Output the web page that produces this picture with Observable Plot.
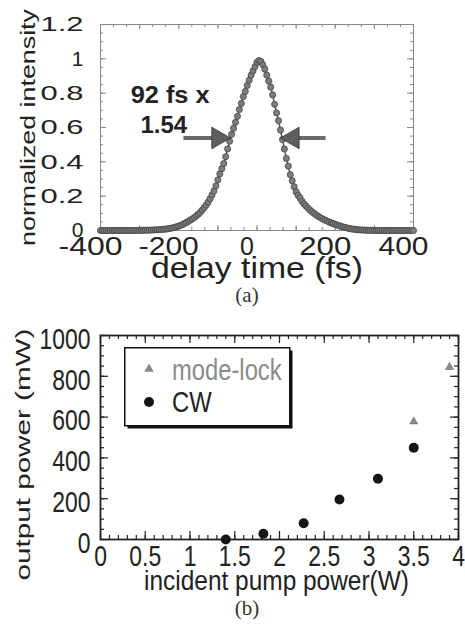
<!DOCTYPE html>
<html><head><meta charset="utf-8">
<script src="https://cdn.jsdelivr.net/npm/d3@7"></script>
<script src="https://cdn.jsdelivr.net/npm/@observablehq/plot@0.6"></script>
<style>
body{margin:0;background:#fff;}
#wrap{position:relative;width:465px;height:625px;overflow:hidden;background:#fff;}
#wrap > *{position:absolute;}
.cap{font-family:"Liberation Serif","DejaVu Serif",serif;font-size:21px;color:#333;width:60px;text-align:center;line-height:21px;}
</style></head><body><div id="wrap"></div>
<script>
// ---------- panel (a): autocorrelation trace ----------
const delayFs = [-400,-395,-390,-385,-380,-375,-370,-365,-360,-355,-350,-345,-340,-335,-330,-325,-320,-315,-310,-305,
-300,-295,-290,-285,-280,-275,-270,-265,-260,-255,
-250,-245,-240,-235,-230,-225,-220,-215,-210,-205,
-200,-195,-190,-185,-180,-175,-170,-165,-160,-155,
-150,-145,-140,-135,-130,-125,-120,-115,-110,-105,
-100,-95,-90,-85,-80,-75,-70,-65,-60,-55,
-50,-45,-40,-35,-30,-25,-20,-15,-10,-5,
0,5,10,15,20,25,30,35,40,45,
50,55,60,65,70,75,80,85,90,95,
100,105,110,115,120,125,130,135,140,145,
150,155,160,165,170,175,180,185,190,195,
200,205,210,215,220,225,230,235,240,245,
250,255,260,265,270,275,280,285,290,295,
300,305,310,315,320,325,330,335,340,345,350,355,360,365,370,375,380,385,390,395,400];
const intensity = [0,0,0,0,0,0,0,0,0,0,0,0,0,0,0,0,0,0,0,0,
0.001,0.001,0.001,0.002,0.002,0.002,0.003,0.003,0.004,0.004,
0.005,0.006,0.007,0.008,0.009,0.011,0.013,0.016,0.019,0.022,
0.026,0.030,0.035,0.041,0.047,0.054,0.061,0.068,0.076,0.085,
0.095,0.106,0.119,0.133,0.148,0.165,0.185,0.207,0.231,0.26,
0.295,0.33,0.36,0.39,0.43,0.475,0.52,0.56,0.595,0.63,
0.665,0.705,0.74,0.78,0.81,0.845,0.875,0.905,0.93,0.955,
0.98,0.99,0.985,0.965,0.94,0.905,0.87,0.835,0.79,0.735,
0.685,0.64,0.585,0.53,0.475,0.42,0.375,0.325,0.29,0.255,
0.225,0.205,0.19,0.17,0.155,0.143,0.131,0.12,0.11,0.101,
0.093,0.085,0.078,0.071,0.065,0.059,0.054,0.049,0.044,0.04,
0.036,0.032,0.028,0.024,0.021,0.018,0.015,0.012,0.01,0.008,
0.007,0.005,0.004,0.003,0.003,0.002,0.002,0.001,0.001,0.001,
0,0,0,0,0,0,0,0,0,0,0,0,0,0,0,0,0,0,0,0,0];
const xTicksA = [-400,-200,0,200,400];
const xTickLabelsA = ["-400","-200","0","200","400"];
const yTicksA = [0,0.2,0.4,0.6,0.8,1,1.2];
const yTickLabelsA = ["0","0.2","0.4","0.6","0.8","1","1.2"];
const xLabelA = "delay time (fs)";
const yLabelA = "normalized intensity";
const noteText = ["92 fs x","1.54"];
const noteX = [-323,-298];
const noteY = [0.79,0.61];
const arrowFromX = [-188,175];
const arrowShaftEndX = [-100,92];
const arrowTipX = [-68,60];
const arrowY = [0.539,0.539];

// ---------- panel (b): output power ----------
const pumpCW = [1.4,1.82,2.27,2.67,3.1,3.5];
const outCW = [0,28,80,196,298,450];
const pumpML = [3.5,3.9];
const outML = [578,845];
const xTicksB = [0,0.5,1,1.5,2,2.5,3,3.5,4];
const xTickLabelsB = ["0","0.5","1","1.5","2","2.5","3","3.5","4"];
const yTicksB = [0,200,400,600,800,1000];
const yTickLabelsB = ["0","200","400","600","800","1000"];
const xLabelB = "incident pump power(W)";
const yLabelB = "output power (mW)";
const legendLabels = ["mode-lock","CW"];
const captions = ["(a)","(b)"];

const wrap = document.getElementById("wrap");
const SANS = "'Liberation Sans', Arial, Helvetica, sans-serif";

// stretch/condense texts along their baseline to the widths seen in the reference
function fitTexts(svg, targets, factor) {
  svg.querySelectorAll("text").forEach(t => {
    const s = t.textContent;
    const w = t.getComputedTextLength();
    if (!w) return;
    let target = targets[s];
    if (target == null) { if (factor == null) return; target = w * factor; }
    const k = target / w;
    const tr = t.getAttribute("transform") || "";
    t.setAttribute("transform", (tr + ` scale(${k.toFixed(4)},1)`).trim());
  });
}

// ===== Panel A =====
{
  const W = 465, H = 285, mL = 100, mR = 52, mT = 24, mB = 55;
  const FW = W - mL - mR, FH = H - mT - mB;
  const trace = delayFs.map((t, i) => ({t, v: intensity[i]}));
  const notes = noteText.map((s, i) => ({s, x: noteX[i], y: noteY[i]}));
  const arrows = arrowFromX.map((x1, i) => ({x1, x2: arrowShaftEndX[i], tip: arrowTipX[i], y: arrowY[i]}));
  const xMaj = d3.range(-400, 401, 100), xMin = d3.range(-400, 401, 100/3);
  const yMaj = d3.range(0, 1.2001, 0.2), yMin = d3.range(0, 1.2001, 0.05);
  const tc = "#888";
  const xl = new Map(xTicksA.map((d, i) => [d, xTickLabelsA[i]]));
  const yl = new Map(yTicksA.map((d, i) => [d, yTickLabelsA[i]]));
  const p = Plot.plot({
    width: W, height: H, marginLeft: mL, marginRight: mR, marginTop: mT, marginBottom: mB,
    style: {fontFamily: SANS, color: "#222", background: "transparent", overflow: "visible"},
    x: {domain: [-400, 400]},
    y: {domain: [0, 1.2]},
    marks: [
      Plot.frame({stroke: tc, strokeWidth: 1}),
      Plot.tickX(xMin, {x: d => d, insetTop: FH - 3, stroke: tc}),
      Plot.tickX(xMin, {x: d => d, insetBottom: FH - 3, stroke: tc}),
      Plot.tickX(xMaj, {x: d => d, insetTop: FH - 5, stroke: tc}),
      Plot.tickX(xMaj, {x: d => d, insetBottom: FH - 5, stroke: tc}),
      Plot.tickY(yMin, {y: d => d, insetRight: FW - 3, stroke: tc}),
      Plot.tickY(yMin, {y: d => d, insetLeft: FW - 3, stroke: tc}),
      Plot.tickY(yMaj, {y: d => d, insetRight: FW - 6, stroke: tc}),
      Plot.tickY(yMaj, {y: d => d, insetLeft: FW - 6, stroke: tc}),
      Plot.axisX(xTicksA, {tickSize: 0, tickPadding: 7, fontSize: 25, dx: -10, label: null, tickFormat: d => xl.get(d)}),
      Plot.axisY(yTicksA, {tickSize: 0, tickPadding: 17, fontSize: 21, label: null, tickFormat: d => yl.get(d)}),
      Plot.text([xLabelA], {text: d => d, frameAnchor: "bottom", lineAnchor: "middle", textAnchor: "middle", dy: 38, fontSize: 29}),
      Plot.text([yLabelA], {text: d => d, frameAnchor: "left", lineAnchor: "middle", textAnchor: "middle", rotate: -90, dx: -72, fontSize: 20}),
      Plot.line(trace, {x: "t", y: "v", stroke: "#555", strokeWidth: 1.5}),
      Plot.dot(trace, {x: "t", y: "v", r: 3.1, fill: "#7d7d7d", stroke: "#3c3c3c", strokeWidth: 0.7}),
      Plot.link(arrows, {x1: "x1", x2: "x2", y1: "y", y2: "y", stroke: "#6a6a6a", strokeWidth: 4}),
      Plot.dot(arrows.slice(0, 1), {x: "tip", y: "y", symbol: "triangle", r: 8, rotate: 90, dx: -12.4, fill: "#5e5e5e", stroke: "#333", strokeWidth: 0.8}),
      Plot.dot(arrows.slice(1), {x: "tip", y: "y", symbol: "triangle", r: 8, rotate: -90, dx: 12.4, fill: "#5e5e5e", stroke: "#333", strokeWidth: 0.8}),
      Plot.text(notes, {x: "x", y: "y", text: "s", textAnchor: "start", lineAnchor: "middle", fontSize: 24, fontWeight: "bold", fill: "#222"})
    ]
  });
  p.style.left = "0px"; p.style.top = "0px";
  wrap.appendChild(p);
  fitTexts(p, {"1.2": 43, "0.8": 43, "0.6": 43, "0.4": 43, "0.2": 43,
    "-400": 64, "-200": 60, "200": 52, "400": 50,
    "delay time (fs)": 212, "normalized intensity": 237, "92 fs x": 79}, null);
}

// ===== Panel B =====
{
  const W = 465, H = 290, mL = 100, mR = 7, mT = 25, mB = 61;
  const FW = W - mL - mR, FH = H - mT - mB;
  const cw = pumpCW.map((x, i) => ({x, y: outCW[i]}));
  const ml = pumpML.map((x, i) => ({x, y: outML[i]}));
  const xMaj = d3.range(0, 4.001, 0.5), xMin = d3.range(0, 4.001, 0.1);
  const yMaj = d3.range(0, 1001, 200), yMin = d3.range(0, 1001, 50);
  const tc = "#222";
  const xl = new Map(xTicksB.map((d, i) => [d, xTickLabelsB[i]]));
  const yl = new Map(yTicksB.map((d, i) => [d, yTickLabelsB[i]]));
  const p = Plot.plot({
    width: W, height: H, marginLeft: mL, marginRight: mR, marginTop: mT, marginBottom: mB,
    style: {fontFamily: SANS, color: "#222", background: "transparent", overflow: "visible"},
    x: {domain: [0, 4]},
    y: {domain: [0, 1000]},
    marks: [
      Plot.tickX(xMin, {x: d => d, insetTop: FH - 4, stroke: tc, strokeWidth: 1.2}),
      Plot.tickX(xMin, {x: d => d, insetBottom: FH - 4, stroke: tc, strokeWidth: 1.2}),
      Plot.tickX(xMaj, {x: d => d, insetTop: FH - 8, stroke: tc, strokeWidth: 1.2}),
      Plot.tickX(xMaj, {x: d => d, insetBottom: FH - 8, stroke: tc, strokeWidth: 1.2}),
      Plot.tickY(yMin, {y: d => d, insetRight: FW - 4, stroke: tc, strokeWidth: 1.2}),
      Plot.tickY(yMin, {y: d => d, insetLeft: FW - 4, stroke: tc, strokeWidth: 1.2}),
      Plot.tickY(yMaj, {y: d => d, insetRight: FW - 8, stroke: tc, strokeWidth: 1.2}),
      Plot.tickY(yMaj, {y: d => d, insetLeft: FW - 8, stroke: tc, strokeWidth: 1.2}),
      Plot.frame({stroke: tc, strokeWidth: 1.8}),
      Plot.axisX(xTicksB, {tickSize: 0, tickPadding: 6, fontSize: 29, label: null, tickFormat: d => xl.get(d)}),
      Plot.axisY(yTicksB, {tickSize: 0, tickPadding: 10, fontSize: 29, dy: 4, label: null, tickFormat: d => yl.get(d)}),
      Plot.text([xLabelB], {text: d => d, frameAnchor: "bottom", lineAnchor: "middle", textAnchor: "middle", dy: 42, dx: -3, fontSize: 27}),
      Plot.text([yLabelB], {text: d => d, frameAnchor: "left", lineAnchor: "middle", textAnchor: "middle", rotate: -90, dx: -77, dy: 17, fontSize: 20}),
      Plot.dot(ml, {x: "x", y: "y", symbol: "triangle", r: 3, fill: "#8c8c8c", stroke: "#666", strokeWidth: 0.6}),
      Plot.dot(cw, {x: "x", y: "y", r: 5, fill: "#151515"})
    ]
  });
  p.style.left = "0px"; p.style.top = "310px";
  wrap.appendChild(p);
  fitTexts(p, {"incident pump power(W)": 265, "output power (mW)": 252}, 0.79);
}

// ===== Legend (b) =====
{
  const leg = d3.create("svg").attr("width", 172).attr("height", 86)
    .style("left", "124px").style("top", "347px").style("font-family", SANS);
  leg.append("rect").attr("x", 3.5).attr("y", 3.5).attr("width", 165).attr("height", 78).attr("fill", "#111");
  leg.append("rect").attr("x", 0.75).attr("y", 0.75).attr("width", 165).attr("height", 78)
    .attr("fill", "#fff").attr("stroke", "#111").attr("stroke-width", 1.5);
  leg.append("path").attr("d", d3.symbol(d3.symbolTriangle, 9 * Math.PI)())
    .attr("transform", "translate(25,22)").attr("fill", "#8c8c8c").attr("stroke", "#666").attr("stroke-width", 0.6);
  leg.append("circle").attr("cx", 25).attr("cy", 55).attr("r", 5).attr("fill", "#151515");
  leg.append("text").attr("transform", "translate(48,33) scale(0.82,1)").attr("font-size", 29).attr("fill", "#8a8a8a").text(legendLabels[0]);
  leg.append("text").attr("transform", "translate(48,65) scale(0.82,1)").attr("font-size", 29).attr("fill", "#222").text(legendLabels[1]);
  wrap.appendChild(leg.node());
}

// ===== Captions =====
captions.forEach((c, i) => {
  const d = document.createElement("div");
  d.className = "cap";
  d.textContent = c;
  d.style.left = "217px";
  d.style.top = i === 0 ? "285px" : "598px";
  wrap.appendChild(d);
});
</script></body></html>
